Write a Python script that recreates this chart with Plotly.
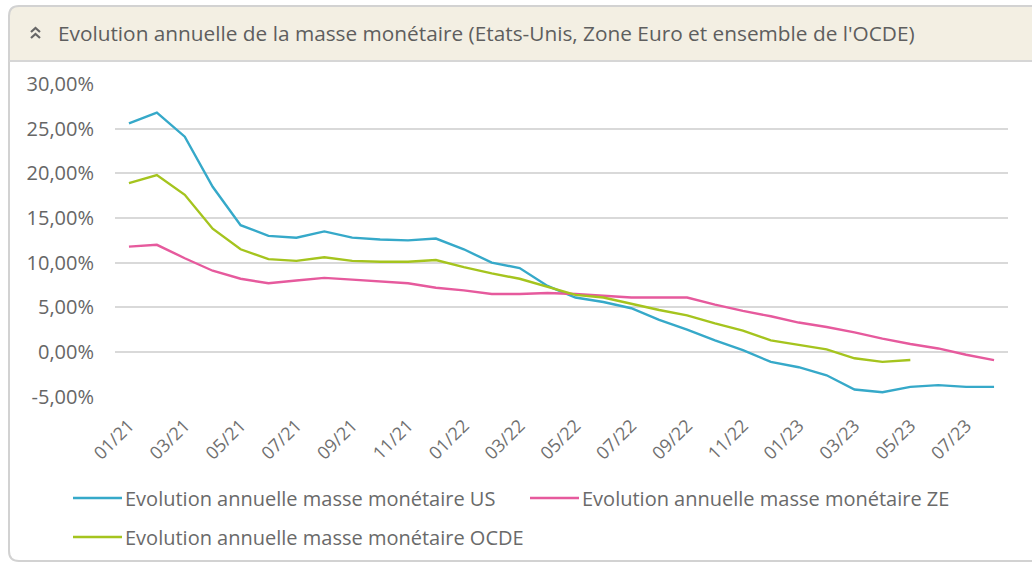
import plotly.graph_objects as go

W, H = 1032, 563

# mois (01/21 -> 08/23)
mois = ["01/21", "02/21", "03/21", "04/21", "05/21", "06/21", "07/21", "08/21",
        "09/21", "10/21", "11/21", "12/21", "01/22", "02/22", "03/22", "04/22",
        "05/22", "06/22", "07/22", "08/22", "09/22", "10/22", "11/22", "12/22",
        "01/23", "02/23", "03/23", "04/23", "05/23", "06/23", "07/23", "08/23"]

# croissance annuelle de la masse monetaire, en %
us = [25.6, 26.8, 24.1, 18.5, 14.2, 13.0, 12.8, 13.5, 12.8, 12.6, 12.5, 12.7,
      11.5, 10.0, 9.4, 7.4, 6.1, 5.6, 4.9, 3.6, 2.5, 1.3, 0.2, -1.1,
      -1.7, -2.6, -4.2, -4.5, -3.9, -3.7, -3.9, -3.9]
ze = [11.8, 12.0, 10.5, 9.1, 8.2, 7.7, 8.0, 8.3, 8.1, 7.9, 7.7, 7.2,
      6.9, 6.5, 6.5, 6.6, 6.5, 6.3, 6.1, 6.1, 6.1, 5.3, 4.6, 4.0,
      3.3, 2.8, 2.2, 1.5, 0.9, 0.4, -0.3, -0.9]
ocde = [18.9, 19.8, 17.6, 13.8, 11.5, 10.4, 10.2, 10.6, 10.2, 10.1, 10.1, 10.3,
        9.5, 8.8, 8.2, 7.3, 6.4, 6.1, 5.4, 4.7, 4.1, 3.2, 2.4, 1.3,
        0.8, 0.3, -0.7, -1.1, -0.9]

# graduations de l'axe des ordonnees
y_ticks = [-5, 0, 5, 10, 15, 20, 25, 30]
y_labels = [f"{v:.2f}".replace(".", ",") + "%" for v in y_ticks]

series = [
    ("Evolution annuelle masse monétaire US", us, "#36a9c9"),
    ("Evolution annuelle masse monétaire ZE", ze, "#e65a9d"),
    ("Evolution annuelle masse monétaire OCDE", ocde, "#a5c41e"),
]

titre = "Evolution annuelle de la masse monétaire (Etats-Unis, Zone Euro et ensemble de l'OCDE)"


def px(x):
    return x / W


def py(y):
    return 1 - y / H


fig = go.Figure()
for nom, vals, col in series:
    fig.add_trace(go.Scatter(x=mois[:len(vals)], y=vals, mode="lines", name=nom,
                             line=dict(color=col, width=2.4), showlegend=False))

# cadre du panneau + bandeau de titre
shapes = [
    dict(type="path", xref="paper", yref="paper",
         path=f"M{px(9)},{py(61)} L{px(9)},{py(16)} Q{px(9)},{py(6)} {px(19)},{py(6)} "
              f"L{px(1040)},{py(6)} L{px(1040)},{py(61)} Z",
         fillcolor="#f3efe3", line=dict(width=0), layer="below"),
    dict(type="path", xref="paper", yref="paper",
         path=f"M{px(1040)},{py(6)} L{px(19)},{py(6)} Q{px(9)},{py(6)} {px(9)},{py(16)} "
              f"L{px(9)},{py(551)} Q{px(9)},{py(561)} {px(19)},{py(561)} L{px(1040)},{py(561)}",
         line=dict(color="#d2d2d2", width=2)),
    dict(type="line", xref="paper", yref="paper", x0=px(9), x1=px(1040), y0=py(61), y1=py(61),
         line=dict(color="#d6d6d6", width=2)),
]

# icone double chevron
for cy in (28, 34):
    shapes.append(dict(type="path", xref="paper", yref="paper",
                       path=f"M{px(31)},{py(cy + 4)} L{px(35.5)},{py(cy)} L{px(40)},{py(cy + 4)}",
                       line=dict(color="#666666", width=2.2)))

annotations = [
    dict(text=titre, x=px(56), y=py(33), xref="paper", yref="paper",
         xanchor="left", yanchor="middle",
         showarrow=False, font=dict(family="Open Sans", size=20.8, color="#5e5e5e")),
]

# legende (deux colonnes)
legende_pos = [(73, 498), (530, 498), (73, 537)]
for (nom, vals, col), (lx, ly) in zip(series, legende_pos):
    shapes.append(dict(type="line", xref="paper", yref="paper",
                       x0=px(lx), x1=px(lx + 49), y0=py(ly), y1=py(ly),
                       line=dict(color=col, width=2.5)))
    annotations.append(dict(text=nom, x=px(lx + 50), y=py(ly), xref="paper", yref="paper",
                            xanchor="left", yanchor="middle", showarrow=False,
                            font=dict(family="Open Sans", size=20, color="#6a6a6a")))

fig.update_layout(
    width=W, height=H,
    margin=dict(l=0, r=0, t=0, b=0, autoexpand=False),
    paper_bgcolor="white", plot_bgcolor="white",
    shapes=shapes, annotations=annotations,
    xaxis=dict(type="category", domain=[px(115), px(1008)], range=[-0.5, 31.5],
               tickvals=mois[::2], ticktext=mois[::2], tickangle=-45,
               showgrid=False, showline=False, zeroline=False, ticks="",
               ticklabelstandoff=14, automargin=False,
               tickfont=dict(family="Open Sans", size=18, color="#707070")),
    yaxis=dict(domain=[py(396.7), py(84)], range=[-5, 30],
               tickvals=y_ticks, ticktext=y_labels,
               showgrid=True, gridcolor="#d9d9d9", gridwidth=2,
               zeroline=False, showline=False, ticks="",
               ticklabelstandoff=20, automargin=False,
               tickfont=dict(family="Open Sans", size=20, color="#666666")),
)

fig.write_html("out.html", config={"displayModeBar": False},
               post_script="document.body.style.margin = '0';")
